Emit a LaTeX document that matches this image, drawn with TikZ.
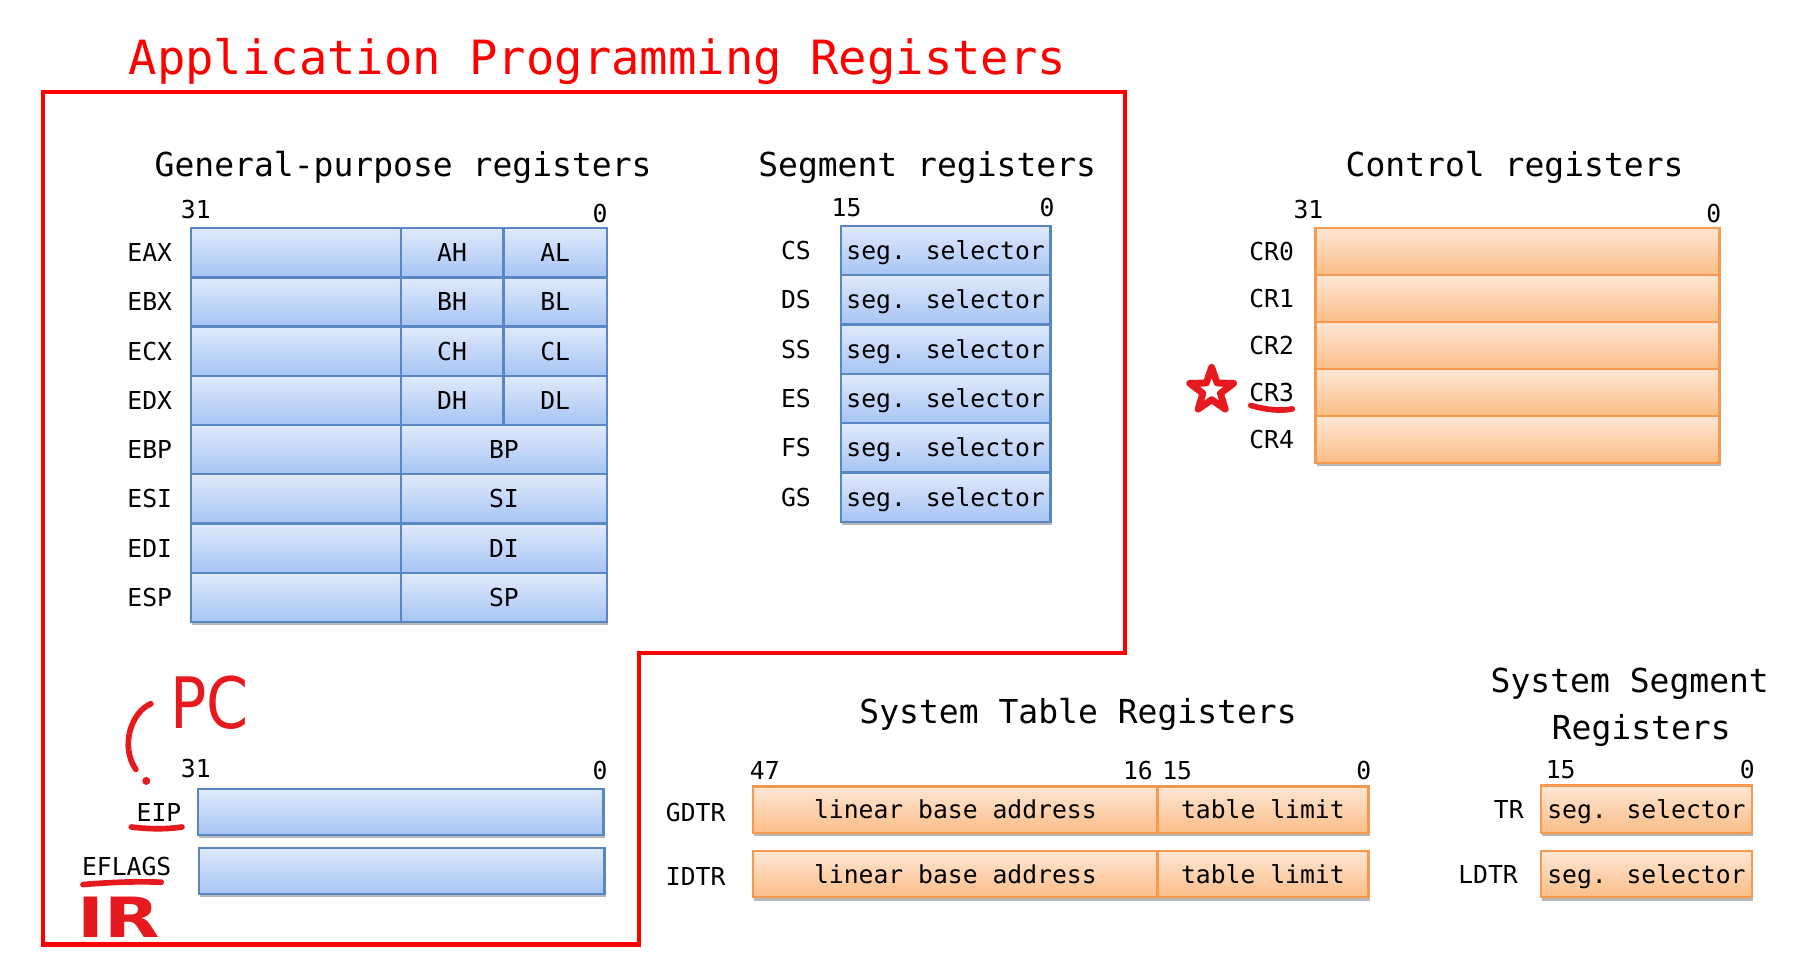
\documentclass[tikz,border=0pt]{standalone}
\usepackage{fontspec}
\setmainfont{DejaVu Sans Mono}
\newfontfamily\handfont{DejaVu Sans}
\usetikzlibrary{shadows}
\definecolor{bborder}{HTML}{5B86C4}
\definecolor{btop}{HTML}{E0EAFB}
\definecolor{bbot}{HTML}{A6C4F4}
\definecolor{oborder}{HTML}{F79A50}
\definecolor{otop}{HTML}{FEE7D5}
\definecolor{obot}{HTML}{FBBD86}
\definecolor{framered}{HTML}{FF0000}
\definecolor{annred}{HTML}{E6191F}
\newcommand\smallf{\fontsize{6.1pt}{7pt}\selectfont}
\newcommand\hdrf{\fontsize{8.15pt}{9.5pt}\selectfont}
\newcommand\ttlf{\fontsize{11.65pt}{13pt}\selectfont}
\newcommand\cellnode[7]{%
  \node[#2, minimum width={(#5-#3)*0.01cm}, minimum height={(#6-#4)*0.01cm}]
    (#1) at ({(#3+#5)/2},{(#4+#6)/2}) {#7};}
\begin{document}
\begin{tikzpicture}[x=0.01cm,y=-0.01cm,
  cellbase/.style={line width=0.6pt, inner sep=0pt, outer sep=0pt,
    text height=4.45pt, text depth=0pt, font=\smallf,
    drop shadow={shadow xshift=0.3pt, shadow yshift=-0.8pt, opacity=0.28, fill=black}},
  bcell/.style={cellbase, draw=bborder, top color=btop, bottom color=bbot},
  ocell/.style={cellbase, draw=oborder, top color=otop, bottom color=obot},
  lbl/.style={inner sep=0pt, font=\smallf, text height=4.45pt, text depth=0pt},
  hdr/.style={inner sep=0pt, font=\hdrf, anchor=base},
  frame/.style={draw=framered, line width=1pt, line join=miter},
  ann/.style={draw=annred, line width=1.4pt, line cap=round, line join=round},
  hand/.style={inner sep=0pt, text=annred}
]
\useasboundingbox (0,0) rectangle (1568,847);

% title and frame
\node[inner sep=0pt, anchor=base west, font=\ttlf, text=framered] (title) at (111,65) {Application Programming Registers};
\draw[frame] (37,80) -- (977,80) -- (977,567) -- (555,567) -- (555,820) -- (37,820) -- cycle;

% headers
\node[hdr] (hgp) at (350,153.5) {General-purpose registers};
\node[hdr] (hseg) at (805,153.5) {Segment registers};
\node[hdr] (hctl) at (1315,153.5) {Control registers};
\node[hdr] (hstr) at (936,628) {System Table Registers};
\node[hdr] (hss1) at (1415,601) {System Segment};
\node[hdr] (hss2) at (1425,642) {Registers};

% general purpose registers
\node[lbl] (gpb31) at (170,182) {31};
\node[lbl] (gpb0) at (521,185) {0};
\foreach \n/\hi/\lo [count=\i from 0] in {EAX/AH/AL, EBX/BH/BL, ECX/CH/CL, EDX/DH/DL}{
  \pgfmathsetmacro\ya{198+42.75*\i}
  \pgfmathsetmacro\yb{\ya+42.75}
  \cellnode{gp\i a}{bcell}{166}{\ya}{348}{\yb}{}
  \cellnode{gp\i b}{bcell}{348}{\ya}{437}{\yb}{\hi}
  \cellnode{gp\i c}{bcell}{437}{\ya}{527}{\yb}{\lo}
  \node[lbl] (lab\n) at (130,{(\ya+\yb)/2}) {\n};
}
\foreach \n/\lo [count=\i from 4] in {EBP/BP, ESI/SI, EDI/DI, ESP/SP}{
  \pgfmathsetmacro\ya{198+42.75*\i}
  \pgfmathsetmacro\yb{\ya+42.75}
  \cellnode{gp\i a}{bcell}{166}{\ya}{348}{\yb}{}
  \cellnode{gp\i b}{bcell}{348}{\ya}{527}{\yb}{\lo}
  \node[lbl] (lab\n) at (130,{(\ya+\yb)/2}) {\n};
}

% segment registers
\node[lbl] (sgb15) at (735,180) {15};
\node[lbl] (sgb0) at (909,180) {0};
\foreach \n [count=\i from 0] in {CS,DS,SS,ES,FS,GS}{
  \pgfmathsetmacro\ya{196+42.83*\i}
  \pgfmathsetmacro\yb{\ya+42.83}
  \cellnode{sg\i}{bcell}{730}{\ya}{912}{\yb}{seg. selector}
  \node[lbl] (lab\n) at (691,{(\ya+\yb)/2}) {\n};
}

% control registers
\node[lbl] (crb31) at (1136,182) {31};
\node[lbl] (crb0) at (1488,185) {0};
\foreach \n [count=\i from 0] in {CR0,CR1,CR2,CR3,CR4}{
  \pgfmathsetmacro\ya{198+40.8*\i}
  \pgfmathsetmacro\yb{\ya+40.8}
  \cellnode{cr\i}{ocell}{1142}{\ya}{1493}{\yb}{}
  \node[lbl] (lab\n) at (1104,{(\ya+\yb)/2}) {\n};
}

% EIP / EFLAGS
\node[lbl] (eb31) at (170,667) {31};
\node[lbl] (eb0) at (521,669) {0};
\cellnode{eip}{bcell}{172}{685}{524}{725}{}
\cellnode{eflags}{bcell}{173}{736}{525}{776}{}
\node[lbl] (labEIP) at (138,705) {EIP};
\node[lbl] (labEFLAGS) at (110,752) {EFLAGS};

% system table registers
\node[lbl] (tb47) at (664,669) {47};
\node[lbl] (tb16) at (988,669) {16};
\node[lbl] (tb15) at (1022,669) {15};
\node[lbl] (tb0) at (1184,669) {0};
\cellnode{gdtra}{ocell}{654}{683}{1005}{723}{linear base address}
\cellnode{gdtrb}{ocell}{1005}{683}{1188}{723}{table limit}
\cellnode{idtra}{ocell}{654}{739}{1005}{779}{linear base address}
\cellnode{idtrb}{ocell}{1005}{739}{1188}{779}{table limit}
\node[lbl] (labGDTR) at (604,705) {GDTR};
\node[lbl] (labIDTR) at (604,761) {IDTR};

% system segment registers
\node[lbl] (ssb15) at (1355,668) {15};
\node[lbl] (ssb0) at (1517,668) {0};
\cellnode{tr}{ocell}{1338}{682}{1521}{723}{seg. selector}
\cellnode{ldtr}{ocell}{1338}{739}{1521}{779}{seg. selector}
\node[lbl] (labTR) at (1310,703) {TR};
\node[lbl] (labLDTR) at (1292,759) {LDTR};

% red annotations
\draw[ann, line width=1.7pt] (1052,319)
  \foreach \k in {1,...,9}{
    -- ({1052+(mod(\k,2)==1 ? 8 : 20)*cos(-90+36*\k)},{339+(mod(\k,2)==1 ? 8 : 20)*sin(-90+36*\k)})
  } -- cycle;
\draw[ann] (1086,352) .. controls (1100,356) and (1112,357) .. (1122,355);
\draw[ann] (114,718) .. controls (130,720) and (145,720) .. (158,718);
\draw[ann] (72,768) .. controls (95,766) and (120,765) .. (140,766);
\draw[ann] (131,611) .. controls (114,618) and (104,648) .. (118,668);
\fill[annred] (127,678) circle (3.5);
\node[hand, font=\handfont\fontsize{17.5pt}{18pt}\selectfont, text height=12.7pt, text depth=0pt, xscale=0.85] (pc) at (182,610) {PC};
\node[hand, font=\handfont\bfseries\fontsize{13.7pt}{14pt}\selectfont, text height=10pt, text depth=0pt, xscale=1.3] (ir) at (103,796) {IR};
\end{tikzpicture}
\end{document}
